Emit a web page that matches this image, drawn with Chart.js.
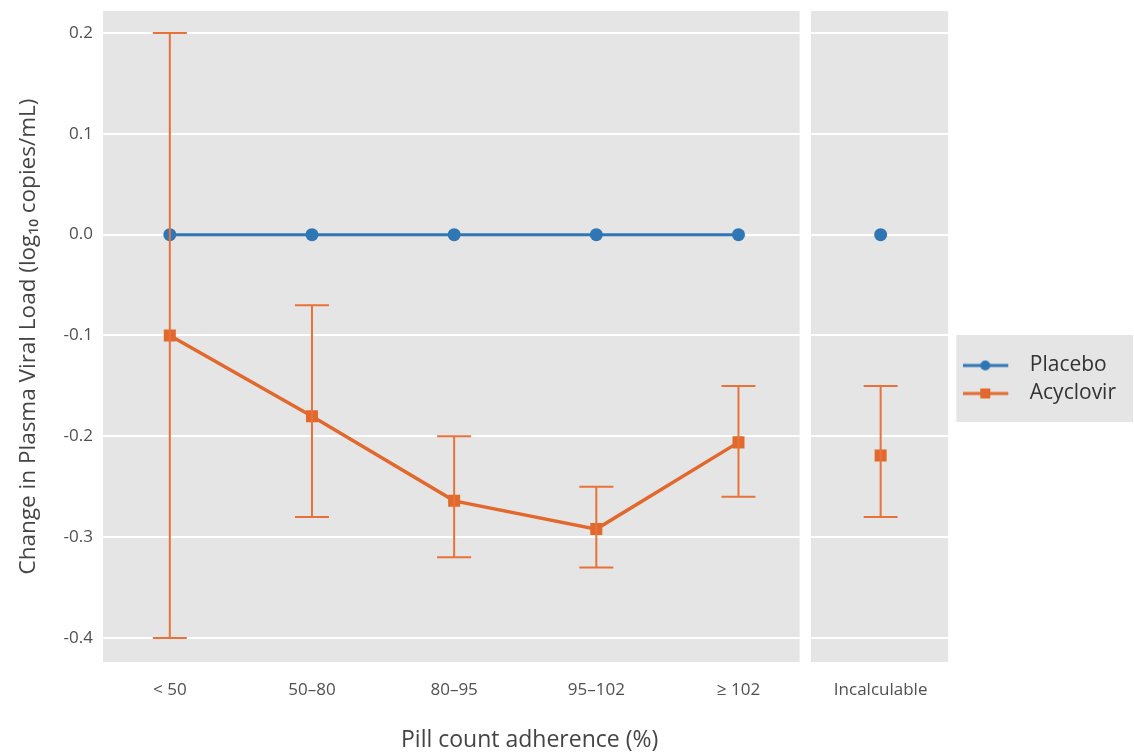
<!DOCTYPE html>
<html>
<head>
<meta charset="utf-8">
<script src="https://cdn.jsdelivr.net/npm/chart.js@4.4.1/dist/chart.umd.min.js"></script>
<style>
  html, body { margin: 0; padding: 0; background: #fff; }
  #wrap { width: 1134px; height: 756px; position: relative; }
</style>
</head>
<body>
<div id="wrap"><canvas id="adherence"></canvas></div>
<script>
// Change in plasma viral load by pill count adherence
var groups = ["< 50", "50–80", "80–95", "95–102", "≥ 102"];
var extraGroup = "Incalculable";
var placebo = [0, 0, 0, 0, 0];
var placeboExtra = [0];
var acyclovir = [-0.1, -0.18, -0.264, -0.292, -0.206];
var acyclovirLow = [-0.4, -0.28, -0.32, -0.33, -0.26];
var acyclovirHigh = [0.2, -0.07, -0.2, -0.25, -0.15];
var acyclovirExtra = [-0.219];
var acyclovirExtraLow = [-0.28];
var acyclovirExtraHigh = [-0.15];
var yTicks = [0.2, 0.1, 0.0, -0.1, -0.2, -0.3, -0.4];

var blue = "#2f76b5";
var orange = "#e2692d";
var barOrange = "#e8733a";
var xLabels = groups.concat([extraGroup]);
// facet panels, in x axis units
var panelEdges = [[-0.47, 4.43], [4.51, 5.475]];

Chart.defaults.font.family = "'Open Sans', sans-serif";

function points(values, start) {
  return values.map(function (v, i) {
    return { x: start + i, y: v };
  });
}

function legendIcon(color, shape) {
  var c = document.createElement("canvas");
  c.width = 56;
  c.height = 16;
  var g = c.getContext("2d");
  g.strokeStyle = color;
  g.lineWidth = 3;
  g.beginPath();
  g.moveTo(0, 8);
  g.lineTo(45, 8);
  g.stroke();
  g.fillStyle = color;
  if (shape === "circle") {
    g.beginPath();
    g.arc(22, 8, 5, 0, Math.PI * 2);
    g.fill();
  } else {
    g.fillRect(17, 3, 10, 10);
  }
  return c;
}
var legendIcons = [legendIcon(blue, "circle"), legendIcon(orange, "rect")];

var panels = {
  id: "panels",
  afterLayout: function (chart) {
    // lift the legend a little, like the original key
    chart.legend.top -= 4;
    chart.legend.bottom -= 4;
  },
  beforeDraw: function (chart) {
    var ctx = chart.ctx, a = chart.chartArea, xs = chart.scales.x;
    ctx.save();
    ctx.fillStyle = "#fff";
    ctx.fillRect(0, 0, chart.width, chart.height);
    ctx.fillStyle = "#e5e5e5";
    panelEdges.forEach(function (p) {
      var l = xs.getPixelForValue(p[0]), r = xs.getPixelForValue(p[1]);
      ctx.fillRect(l, a.top, r - l, a.bottom - a.top);
    });
    var boxes = chart.legend.legendHitBoxes;
    if (boxes && boxes.length) {
      var top = boxes[0].top - 20;
      var bottom = boxes[boxes.length - 1].top + boxes[boxes.length - 1].height + 18;
      var left = boxes[0].left - 7;
      ctx.fillRect(left, top, chart.width - 1 - left, bottom - top);
    }
    ctx.restore();
  }
};

var errorBars = {
  id: "errorBars",
  afterDatasetsDraw: function (chart) {
    var ctx = chart.ctx, xs = chart.scales.x, ys = chart.scales.y;
    chart.data.datasets.forEach(function (ds) {
      if (!ds.errLow) return;
      ctx.save();
      ctx.strokeStyle = barOrange;
      ctx.lineWidth = 2;
      ds.data.forEach(function (p, i) {
        var x = xs.getPixelForValue(p.x);
        var lo = ys.getPixelForValue(ds.errLow[i]);
        var hi = ys.getPixelForValue(ds.errHigh[i]);
        ctx.beginPath();
        ctx.moveTo(x, lo);
        ctx.lineTo(x, hi);
        ctx.moveTo(x - 17, lo);
        ctx.lineTo(x + 17, lo);
        ctx.moveTo(x - 17, hi);
        ctx.lineTo(x + 17, hi);
        ctx.stroke();
      });
      ctx.restore();
    });
  }
};

var ctx = document.getElementById("adherence").getContext("2d");
var myChart = new Chart(ctx, {
  type: "line",
  data: {
    datasets: [
      {
        label: "Placebo",
        data: points(placebo, 0),
        borderColor: blue,
        backgroundColor: blue,
        borderWidth: 3,
        pointStyle: "circle",
        pointRadius: 6.5,
        pointBorderWidth: 0,
      },
      {
        label: "Acyclovir",
        data: points(acyclovir, 0),
        errLow: acyclovirLow,
        errHigh: acyclovirHigh,
        borderColor: orange,
        backgroundColor: orange,
        borderWidth: 3.5,
        pointStyle: "rect",
        pointRadius: 8.5,
        pointBorderWidth: 0,
      },
      {
        label: "Placebo, incalculable",
        data: points(placeboExtra, groups.length),
        showLine: false,
        borderColor: blue,
        backgroundColor: blue,
        pointStyle: "circle",
        pointRadius: 6.5,
        pointBorderWidth: 0,
      },
      {
        label: "Acyclovir, incalculable",
        data: points(acyclovirExtra, groups.length),
        errLow: acyclovirExtraLow,
        errHigh: acyclovirExtraHigh,
        showLine: false,
        borderColor: orange,
        backgroundColor: orange,
        pointStyle: "rect",
        pointRadius: 8.5,
        pointBorderWidth: 0,
      },
    ],
  },
  options: {
    responsive: true,
    maintainAspectRatio: false,
    animation: false,
    layout: { padding: { top: 11, right: 8, left: 0, bottom: 0 } },
    scales: {
      x: {
        type: "linear",
        min: -0.47,
        max: 5.532,
        afterBuildTicks: function (s) {
          s.ticks = xLabels.map(function (l, i) {
            return { value: i };
          });
        },
        afterFit: function (s) {
          s.height = 94;
          s.paddingLeft = 0;
          s.paddingRight = 0;
        },
        border: { display: false },
        grid: { display: false, drawTicks: false },
        ticks: {
          padding: 18,
          color: "#505050",
          font: { size: 17 },
          maxRotation: 0,
          autoSkip: false,
          callback: function (v) {
            return xLabels[v];
          },
        },
        title: {
          display: true,
          text: "Pill count adherence (%)",
          color: "#444",
          font: { size: 23 },
          padding: { top: 0, bottom: 2 },
        },
      },
      y: {
        min: -0.4238,
        max: 0.2218,
        afterBuildTicks: function (s) {
          s.ticks = yTicks.map(function (v) {
            return { value: v };
          });
        },
        afterFit: function (s) {
          s.width = 103;
          s.paddingTop = 0;
          s.paddingBottom = 0;
        },
        border: { display: false },
        grid: { color: "#fff", lineWidth: 2, drawTicks: false },
        ticks: {
          padding: 10,
          color: "#505050",
          font: { size: 17 },
          callback: function (v) {
            return v.toFixed(1);
          },
        },
        title: {
          display: true,
          text: "Change in Plasma Viral Load (log₁₀ copies/mL)",
          color: "#444",
          font: { size: 22.5 },
          padding: { top: 15, bottom: 0 },
        },
      },
    },
    plugins: {
      tooltip: { enabled: false },
      legend: {
        position: "right",
        labels: {
          usePointStyle: true,
          pointStyleWidth: 56,
          padding: 7,
          color: "#333",
          font: { size: 21 },
          generateLabels: function (chart) {
            var items = Chart.defaults.plugins.legend.labels
              .generateLabels(chart)
              .slice(0, 2);
            items.forEach(function (it) {
              it.pointStyle = legendIcons[it.datasetIndex];
            });
            return items;
          },
        },
      },
    },
  },
  plugins: [panels, errorBars],
});
</script>
</body>
</html>
